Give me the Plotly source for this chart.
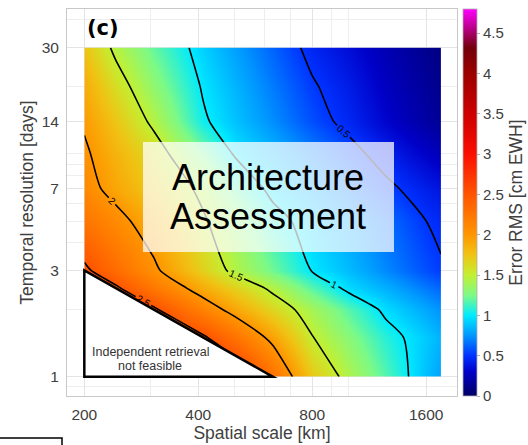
import numpy as np
import plotly.graph_objects as go

# ---------------- data ----------------
spatial_km = [200, 242, 305, 412, 500, 630, 800, 1000, 1250, 1600, 1750]
temporal_days = [1, 1.5, 2, 2.5, 3, 5, 7, 10, 14, 20, 30]

err_d1 = [3.20, 3.10, 2.98, 2.85, 2.72, 2.28, 1.72, 1.42, 1.17, 0.87, 0.78]
err_d1_5 = [3.05, 2.90, 2.72, 2.54, 2.27, 1.93, 1.51, 1.29, 1.08, 0.90, 0.83]
err_d2 = [2.95, 2.75, 2.54, 2.15, 1.91, 1.64, 1.39, 1.17, 0.96, 0.80, 0.74]
err_d2_5 = [2.75, 2.54, 2.24, 1.88, 1.68, 1.45, 1.18, 0.95, 0.83, 0.68, 0.63]
err_d3 = [2.55, 2.32, 2.05, 1.67, 1.44, 1.22, 0.99, 0.86, 0.72, 0.57, 0.52]
err_d5 = [2.25, 2.09, 1.86, 1.53, 1.33, 1.08, 0.91, 0.78, 0.65, 0.50, 0.46]
err_d7 = [2.10, 1.91, 1.72, 1.44, 1.18, 0.94, 0.80, 0.67, 0.54, 0.42, 0.38]
err_d10 = [2.04, 1.84, 1.62, 1.23, 0.98, 0.84, 0.70, 0.56, 0.43, 0.30, 0.25]
err_d14 = [1.97, 1.74, 1.45, 1.03, 0.88, 0.73, 0.57, 0.45, 0.32, 0.19, 0.15]
err_d20 = [1.88, 1.61, 1.32, 0.98, 0.84, 0.68, 0.52, 0.41, 0.28, 0.16, 0.12]
err_d30 = [1.75, 1.45, 1.20, 0.92, 0.78, 0.62, 0.45, 0.35, 0.24, 0.13, 0.09]

err_rms = [err_d1, err_d1_5, err_d2, err_d2_5, err_d3, err_d5, err_d7,
           err_d10, err_d14, err_d20, err_d30]

x_ticks = [200, 400, 800, 1600]
x_ticktext = ["200", "400", "800", "1600"]
y_ticks = [1, 3, 7, 14, 30]
y_ticktext = ["1", "3", "7", "14", "30"]
cb_ticks = [0, 0.5, 1, 1.5, 2, 2.5, 3, 3.5, 4, 4.5]
cb_ticktext = ["0", "0.5", "1", "1.5", "2", "2.5", "3", "3.5", "4", "4.5"]

x_minor = [300, 500, 600, 700, 900, 1000]
y_minor = [0.9, 2, 4, 5, 6, 8, 9, 10, 20, 40]

# infeasible region (spatial km, temporal days)
infeasible_x = [200, 200, 630]
infeasible_y = [3, 1, 1]

z_min, z_max = 0, 4.8

colorscale = [
    [0.0, "rgb(0,0,100)"],
    [0.0625, "rgb(0,0,200)"],
    [0.104, "rgb(0,50,255)"],
    [0.156, "rgb(0,150,255)"],
    [0.208, "rgb(0,235,255)"],
    [0.26, "rgb(125,250,135)"],
    [0.3125, "rgb(195,240,50)"],
    [0.365, "rgb(240,195,20)"],
    [0.417, "rgb(255,150,0)"],
    [0.52, "rgb(255,85,0)"],
    [0.625, "rgb(250,15,0)"],
    [0.729, "rgb(205,0,0)"],
    [0.833, "rgb(155,0,0)"],
    [0.9, "rgb(115,0,10)"],
    [0.94, "rgb(170,0,110)"],
    [1.0, "rgb(255,0,255)"],
]

TXT = "#404040"
FONT = "Liberation Sans, Arial, sans-serif"

fig = go.Figure()

# colour field
fig.add_trace(go.Contour(
    x=spatial_km, y=temporal_days, z=err_rms,
    colorscale=colorscale, zmin=z_min, zmax=z_max, zauto=False,
    contours=dict(coloring="heatmap", showlines=False, start=0.5, end=2.5, size=0.5),
    line=dict(width=0),
    showscale=True,
    colorbar=dict(
        x=(463 - 67) / 390, xanchor="left", xpad=0, ypad=0,
        y=0.5, yanchor="middle", len=1.0, lenmode="fraction",
        thickness=14, outlinewidth=0.8, outlinecolor="#b0b0b0",
        tickvals=cb_ticks, ticktext=cb_ticktext,
        tickfont=dict(size=15, color=TXT, family=FONT),
        ticks="outside", ticklen=3, tickcolor="#b0b0b0",
        title=dict(text="Error RMS [cm EWH]", side="right",
                   font=dict(size=17.5, color=TXT, family=FONT)),
    ),
    hoverinfo="skip",
))

# contour lines
fig.add_trace(go.Contour(
    x=spatial_km, y=temporal_days, z=err_rms,
    contours=dict(coloring="none", showlines=True, start=0.5, end=2.5, size=0.5,
                  showlabels=True,
                  labelfont=dict(size=10, color="black", family=FONT)),
    line=dict(color="black", width=1.6, smoothing=0.7),
    showscale=False,
    hoverinfo="skip",
))

tri_path = "M {} {} L {} {} L {} {} Z".format(
    infeasible_x[0], infeasible_y[0], infeasible_x[1], infeasible_y[1],
    infeasible_x[2], infeasible_y[2])

shapes = [
    dict(type="path", path=tri_path, xref="x", yref="y",
         fillcolor="white", line=dict(color="black", width=2.5), layer="above"),
    # semi-transparent overlay box
    dict(type="rect", xref="paper", yref="paper",
         x0=(143 - 67) / 390, x1=(394 - 67) / 390,
         y0=(396 - 252) / 387, y1=(396 - 142) / 387,
         fillcolor="rgba(255,255,255,0.74)", line=dict(width=0), layer="above"),
    # partial box at bottom-left
    dict(type="rect", xref="paper", yref="paper",
         x0=-0.25, x1=(62 - 67) / 390,
         y0=-0.2, y1=(396 - 438) / 387,
         fillcolor="rgba(0,0,0,0)", line=dict(color="black", width=1.5), layer="above"),
]

annotations = [
    dict(text="<b>(c)</b>", xref="paper", yref="paper",
         x=(103 - 67) / 390, y=(396 - 28) / 387, showarrow=False,
         font=dict(size=21, color="black", family="DejaVu Sans"),
         xanchor="center", yanchor="middle"),
    dict(text="Independent retrieval", xref="paper", yref="paper",
         x=(150 - 67) / 390, y=(396 - 352) / 387, showarrow=False,
         font=dict(size=12.5, color="#333333", family=FONT),
         xanchor="center", yanchor="middle"),
    dict(text="not feasible", xref="paper", yref="paper",
         x=(150 - 67) / 390, y=(396 - 366) / 387, showarrow=False,
         font=dict(size=12.5, color="#333333", family=FONT),
         xanchor="center", yanchor="middle"),
    dict(text="Architecture", xref="paper", yref="paper",
         x=(268 - 67) / 390, y=(396 - 177) / 387, showarrow=False,
         font=dict(size=36, color="black", family=FONT),
         xanchor="center", yanchor="middle"),
    dict(text="Assessment", xref="paper", yref="paper",
         x=(268 - 67) / 390, y=(396 - 217) / 387, showarrow=False,
         font=dict(size=36, color="black", family=FONT),
         xanchor="center", yanchor="middle"),
]

axis_common = dict(
    showline=True, mirror=True, linecolor="#c8c8c8", linewidth=1,
    showgrid=True, gridcolor="#e4e4e4", gridwidth=1,
    zeroline=False, ticks="", automargin=False,
    tickfont=dict(size=15.5, color=TXT, family=FONT),
)

fig.update_layout(
    width=528, height=445,
    margin=dict(l=67, r=71, t=9, b=49, autoexpand=False),
    paper_bgcolor="white", plot_bgcolor="white",
    showlegend=False,
    shapes=shapes, annotations=annotations,
    xaxis=dict(
        type="log", range=[np.log10(180), np.log10(1930)],
        tickvals=x_ticks, ticktext=x_ticktext,
        minor=dict(tickvals=x_minor, showgrid=True, gridcolor="#eeeeee", ticks=""),
        ticklabelstandoff=4,
        title=dict(text="Spatial scale [km]", standoff=3,
                   font=dict(size=17.5, color=TXT, family=FONT)),
        **axis_common,
    ),
    yaxis=dict(
        type="log", range=[np.log10(0.82), np.log10(44.7)],
        tickvals=y_ticks, ticktext=y_ticktext,
        minor=dict(tickvals=y_minor, showgrid=True, gridcolor="#eeeeee", ticks=""),
        ticklabelstandoff=4,
        title=dict(text="Temporal resolution [days]", standoff=3,
                   font=dict(size=17.5, color=TXT, family=FONT)),
        **axis_common,
    ),
)

fig.write_html("out.html")
